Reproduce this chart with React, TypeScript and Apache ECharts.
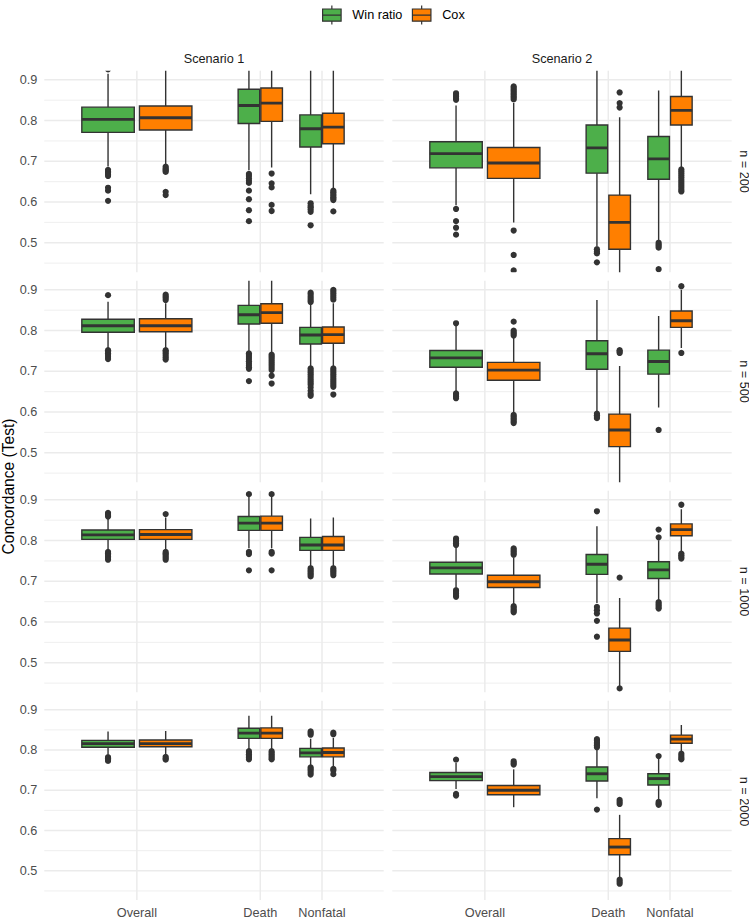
import React, { useEffect, useRef } from "react";
import * as echarts from "echarts";

// ---------- categories / labels ----------
const categories = ["Overall", "Death", "Nonfatal"];
const categoryPositions = [1, 3, 4];
const methods = ["Win ratio", "Cox"];
const scenarios = ["Scenario 1", "Scenario 2"];
const sampleSizes = ["n = 200", "n = 500", "n = 1000", "n = 2000"];
const yMajorValues = [0.5, 0.6, 0.7, 0.8, 0.9];
const yMinorValues = [0.45, 0.55, 0.65, 0.75, 0.85];

// ---------- box stats: [lower whisker, Q1, median, Q3, upper whisker] per category ----------
// Scenario 1
const s1n200Win = [[0.687, 0.771, 0.803, 0.833, 0.915], [0.678, 0.793, 0.837, 0.877, 0.96], [0.619, 0.735, 0.78, 0.814, 0.94]];
const s1n200Cox = [[0.693, 0.777, 0.807, 0.836, 0.95], [0.685, 0.798, 0.843, 0.88, 0.96], [0.634, 0.743, 0.784, 0.818, 0.94]];
const s1n500Win = [[0.757, 0.796, 0.812, 0.828, 0.871], [0.748, 0.816, 0.839, 0.862, 0.95], [0.711, 0.767, 0.789, 0.808, 0.867]];
const s1n500Cox = [[0.757, 0.797, 0.812, 0.829, 0.867], [0.747, 0.818, 0.844, 0.866, 0.95], [0.711, 0.769, 0.79, 0.809, 0.867]];
const s1n1000Win = [[0.776, 0.803, 0.814, 0.826, 0.857], [0.781, 0.825, 0.843, 0.859, 0.908], [0.736, 0.776, 0.789, 0.808, 0.854]];
const s1n1000Cox = [[0.776, 0.803, 0.815, 0.827, 0.857], [0.781, 0.825, 0.843, 0.86, 0.907], [0.736, 0.776, 0.789, 0.81, 0.857]];
const s1n2000Win = [[0.784, 0.807, 0.816, 0.824, 0.846], [0.799, 0.829, 0.842, 0.854, 0.885], [0.759, 0.783, 0.793, 0.804, 0.828]];
const s1n2000Cox = [[0.784, 0.808, 0.816, 0.825, 0.847], [0.799, 0.829, 0.842, 0.855, 0.885], [0.759, 0.783, 0.794, 0.805, 0.83]];
// Scenario 2
const s2n200Win = [[0.592, 0.684, 0.719, 0.748, 0.837], [0.49, 0.671, 0.733, 0.789, 0.96], [0.507, 0.656, 0.706, 0.761, 0.874]];
const s2n200Cox = [[0.55, 0.658, 0.696, 0.734, 0.843], [0.4, 0.484, 0.55, 0.617, 0.808], [0.683, 0.789, 0.825, 0.859, 0.95]];
const s2n500Win = [[0.65, 0.71, 0.733, 0.751, 0.813], [0.598, 0.705, 0.743, 0.775, 0.875], [0.611, 0.693, 0.724, 0.752, 0.836]];
const s2n500Cox = [[0.597, 0.678, 0.703, 0.722, 0.785], [0.4, 0.515, 0.556, 0.595, 0.713], [0.757, 0.808, 0.824, 0.848, 0.9]];
const s2n1000Win = [[0.68, 0.718, 0.733, 0.747, 0.786], [0.647, 0.717, 0.742, 0.766, 0.835], [0.653, 0.707, 0.728, 0.748, 0.801]];
const s2n1000Cox = [[0.644, 0.685, 0.699, 0.715, 0.757], [0.44, 0.528, 0.556, 0.585, 0.659], [0.772, 0.812, 0.827, 0.841, 0.877]];
const s2n2000Win = [[0.703, 0.724, 0.734, 0.744, 0.768], [0.68, 0.723, 0.741, 0.758, 0.805], [0.674, 0.713, 0.729, 0.741, 0.783]];
const s2n2000Cox = [[0.658, 0.689, 0.7, 0.712, 0.752], [0.481, 0.54, 0.559, 0.58, 0.639], [0.794, 0.817, 0.827, 0.837, 0.862]];

// ---------- outliers per category ----------
const s1n200WinOut = [[0.926, 0.679, 0.675, 0.672, 0.668, 0.664, 0.635, 0.628, 0.603], [0.669, 0.664, 0.658, 0.652, 0.647, 0.628, 0.607, 0.58, 0.553], [0.597, 0.591, 0.587, 0.582, 0.576, 0.543]];
const s1n200CoxOut = [[0.687, 0.683, 0.68, 0.677, 0.674, 0.625, 0.617], [0.67, 0.646, 0.636, 0.593, 0.578], [0.628, 0.624, 0.62, 0.616, 0.612, 0.608, 0.605, 0.577]];
const s1n500WinOut = [[0.887, 0.752, 0.748, 0.744, 0.74, 0.735, 0.73], [0.744, 0.74, 0.735, 0.73, 0.725, 0.72, 0.715, 0.71, 0.706, 0.676], [0.893, 0.889, 0.884, 0.879, 0.874, 0.87, 0.707, 0.702, 0.697, 0.692, 0.687, 0.682, 0.677, 0.672, 0.667, 0.66, 0.652, 0.645, 0.64]];
const s1n500CoxOut = [[0.888, 0.884, 0.88, 0.875, 0.752, 0.748, 0.744, 0.739, 0.734, 0.729], [0.741, 0.737, 0.733, 0.728, 0.723, 0.718, 0.713, 0.708, 0.703, 0.689, 0.67], [0.9, 0.896, 0.891, 0.886, 0.881, 0.876, 0.707, 0.702, 0.697, 0.692, 0.687, 0.682, 0.677, 0.672, 0.667, 0.662, 0.643]];
const s1n1000WinOut = [[0.868, 0.865, 0.862, 0.859, 0.772, 0.768, 0.765, 0.761, 0.757, 0.753], [0.914, 0.772, 0.767, 0.727], [0.732, 0.728, 0.724, 0.72, 0.716, 0.712]];
const s1n1000CoxOut = [[0.865, 0.772, 0.768, 0.765, 0.761, 0.757, 0.753], [0.914, 0.772, 0.768, 0.727], [0.732, 0.728, 0.724, 0.72, 0.715]];
const s1n2000WinOut = [[0.782, 0.779, 0.776, 0.773], [0.797, 0.793, 0.789, 0.785, 0.781, 0.777], [0.846, 0.842, 0.838, 0.757, 0.753, 0.749, 0.744, 0.739]];
const s1n2000CoxOut = [[0.783, 0.779, 0.776], [0.797, 0.793, 0.789, 0.785, 0.781, 0.777], [0.843, 0.839, 0.753, 0.749, 0.74]];
const s2n200WinOut = [[0.867, 0.863, 0.859, 0.855, 0.851, 0.583, 0.553, 0.537, 0.52], [0.484, 0.478, 0.474, 0.452], [0.5, 0.496, 0.492, 0.488, 0.435]];
const s2n200CoxOut = [[0.884, 0.88, 0.876, 0.872, 0.868, 0.864, 0.86, 0.856, 0.852, 0.53, 0.47, 0.432], [0.869, 0.843, 0.832], [0.68, 0.675, 0.67, 0.665, 0.66, 0.655, 0.65, 0.645, 0.64, 0.635, 0.63, 0.626]];
const s2n500WinOut = [[0.818, 0.646, 0.642, 0.638, 0.634], [0.596, 0.592, 0.588, 0.585], [0.556]];
const s2n500CoxOut = [[0.822, 0.8, 0.796, 0.792, 0.788, 0.593, 0.589, 0.585, 0.581, 0.577, 0.573], [0.752, 0.748, 0.745], [0.909, 0.745]];
const s2n1000WinOut = [[0.805, 0.801, 0.797, 0.793, 0.789, 0.678, 0.674, 0.67, 0.666, 0.662], [0.872, 0.637, 0.629, 0.621, 0.603, 0.564], [0.827, 0.808, 0.649, 0.645, 0.641, 0.637, 0.633]];
const s2n1000CoxOut = [[0.781, 0.777, 0.773, 0.769, 0.765, 0.639, 0.635, 0.631, 0.627, 0.624], [0.709, 0.437], [0.888, 0.768, 0.764, 0.76, 0.756]];
const s2n2000WinOut = [[0.776, 0.691, 0.687], [0.827, 0.823, 0.819, 0.815, 0.811, 0.807, 0.652], [0.785, 0.671, 0.667, 0.664]];
const s2n2000CoxOut = [[0.772, 0.768, 0.764], [0.676, 0.671, 0.666, 0.478, 0.473, 0.468], [0.791, 0.786, 0.781, 0.777]];

const panelData = [
  [
    { win: s1n200Win, winOut: s1n200WinOut, cox: s1n200Cox, coxOut: s1n200CoxOut },
    { win: s2n200Win, winOut: s2n200WinOut, cox: s2n200Cox, coxOut: s2n200CoxOut },
  ],
  [
    { win: s1n500Win, winOut: s1n500WinOut, cox: s1n500Cox, coxOut: s1n500CoxOut },
    { win: s2n500Win, winOut: s2n500WinOut, cox: s2n500Cox, coxOut: s2n500CoxOut },
  ],
  [
    { win: s1n1000Win, winOut: s1n1000WinOut, cox: s1n1000Cox, coxOut: s1n1000CoxOut },
    { win: s2n1000Win, winOut: s2n1000WinOut, cox: s2n1000Cox, coxOut: s2n1000CoxOut },
  ],
  [
    { win: s1n2000Win, winOut: s1n2000WinOut, cox: s1n2000Cox, coxOut: s1n2000CoxOut },
    { win: s2n2000Win, winOut: s2n2000WinOut, cox: s2n2000Cox, coxOut: s2n2000CoxOut },
  ],
];

// ---------- layout & style ----------
const FONT = '"Liberation Sans", Arial, Helvetica, sans-serif';
const COLORS = ["#4DAF4A", "#FF7F00"];
const OUTLINE = "#333333";
const GRID_COLOR = "#EBEBEB";
const PANEL_LEFT = [44.3, 392.3];
const PANEL_TOP = [70.7, 280.7, 490.7, 700.7];
const PANEL_W = 339.4;
const PANEL_H = 201.6;
const X_MIN = -0.5;
const X_MAX = 5;
const Y_MIN = 0.4275;
const Y_MAX = 0.9225;
const BOX_GEOM = [
  { offset: 0.467, half: 0.425 },
  { offset: 0.184, half: 0.175 },
  { offset: 0.184, half: 0.175 },
];
const LEGEND_ICON = "path://M0,3.5H19V16H0Z M9.5,0V3.5 M9.5,16V19.5 M0,9.75H19";

function gridRenderer(_params: any, api: any) {
  const kind = api.value(0);
  const v = api.value(1);
  const major = api.value(2);
  let p1: number[];
  let p2: number[];
  if (kind === 0) {
    p1 = api.coord([X_MIN, v]);
    p2 = api.coord([X_MAX, v]);
  } else {
    p1 = api.coord([v, Y_MIN]);
    p2 = api.coord([v, Y_MAX]);
  }
  return {
    type: "line",
    shape: { x1: p1[0], y1: p1[1], x2: p2[0], y2: p2[1] },
    style: { stroke: GRID_COLOR, lineWidth: major ? 1.5 : 0.8 },
    silent: true,
  };
}

function makeBoxRenderer(color: string) {
  return (_params: any, api: any) => {
    const x = api.value(0);
    const hw = api.value(6);
    const pLow = api.coord([x, api.value(1)]);
    const cx = pLow[0];
    const yLow = pLow[1];
    const yQ1 = api.coord([x, api.value(2)])[1];
    const yMed = api.coord([x, api.value(3)])[1];
    const yQ3 = api.coord([x, api.value(4)])[1];
    const yHigh = api.coord([x, api.value(5)])[1];
    const xl = api.coord([x - hw, 0.6])[0];
    const xr = api.coord([x + hw, 0.6])[0];
    return {
      type: "group",
      children: [
        { type: "line", shape: { x1: cx, y1: yHigh, x2: cx, y2: yQ3 }, style: { stroke: OUTLINE, lineWidth: 1.4 } },
        { type: "line", shape: { x1: cx, y1: yQ1, x2: cx, y2: yLow }, style: { stroke: OUTLINE, lineWidth: 1.4 } },
        {
          type: "rect",
          shape: { x: xl, y: yQ3, width: xr - xl, height: yQ1 - yQ3 },
          style: { fill: color, stroke: OUTLINE, lineWidth: 1.4 },
        },
        { type: "line", shape: { x1: xl, y1: yMed, x2: xr, y2: yMed }, style: { stroke: OUTLINE, lineWidth: 2.9 } },
      ],
    };
  };
}

function outlierRenderer(_params: any, api: any) {
  const p = api.coord([api.value(0), api.value(1)]);
  return { type: "circle", shape: { cx: p[0], cy: p[1], r: 3.1 }, style: { fill: OUTLINE } };
}

function buildOption() {
  const grids: any[] = [];
  const xAxes: any[] = [];
  const yAxes: any[] = [];
  const series: any[] = [];
  const graphics: any[] = [];

  const gridData = [
    ...yMajorValues.map((v) => [0, v, 1]),
    ...yMinorValues.map((v) => [0, v, 0]),
    ...categoryPositions.map((x) => [1, x, 1]),
  ];

  sampleSizes.forEach((_n, r) => {
    scenarios.forEach((_s, c) => {
      const k = r * 2 + c;
      grids.push({ left: PANEL_LEFT[c], top: PANEL_TOP[r], width: PANEL_W, height: PANEL_H });
      xAxes.push({
        gridIndex: k,
        type: "value",
        min: X_MIN,
        max: X_MAX,
        interval: 0.5,
        axisLine: { show: false },
        axisTick: { show: false },
        splitLine: { show: false },
        axisLabel: {
          show: r === sampleSizes.length - 1,
          margin: 6,
          color: "#4D4D4D",
          fontFamily: FONT,
          fontSize: 12.7,
          formatter: (v: number) => {
            const i = categoryPositions.findIndex((p) => Math.abs(p - v) < 1e-6);
            return i >= 0 ? categories[i] : "";
          },
        },
      });
      yAxes.push({
        gridIndex: k,
        type: "value",
        min: Y_MIN,
        max: Y_MAX,
        splitNumber: 5,
        axisLine: { show: false },
        axisTick: { show: false },
        splitLine: { show: false },
        axisLabel: {
          show: c === 0,
          showMinLabel: false,
          showMaxLabel: false,
          margin: 7,
          color: "#4D4D4D",
          fontFamily: FONT,
          fontSize: 12.7,
          formatter: (v: number) => v.toFixed(1),
        },
      });
      series.push({
        type: "custom",
        name: "grid",
        xAxisIndex: k,
        yAxisIndex: k,
        silent: true,
        z: 1,
        renderItem: gridRenderer,
        data: gridData,
      });

      const p = panelData[r][c];
      const groups = [
        [p.win, p.winOut],
        [p.cox, p.coxOut],
      ];
      groups.forEach(([stats, outs], m) => {
        const sign = m === 0 ? -1 : 1;
        series.push({
          type: "custom",
          name: methods[m],
          xAxisIndex: k,
          yAxisIndex: k,
          clip: true,
          z: 3,
          silent: true,
          itemStyle: { color: COLORS[m] },
          encode: { x: 0, y: [1, 2, 3, 4, 5] },
          renderItem: makeBoxRenderer(COLORS[m]),
          data: (stats as number[][]).map((s, i) => [
            categoryPositions[i] + sign * BOX_GEOM[i].offset,
            s[0],
            s[1],
            s[2],
            s[3],
            s[4],
            BOX_GEOM[i].half,
          ]),
        });
        series.push({
          type: "custom",
          name: methods[m] + " outliers",
          xAxisIndex: k,
          yAxisIndex: k,
          clip: true,
          z: 4,
          silent: true,
          renderItem: outlierRenderer,
          data: (outs as number[][]).flatMap((list, i) =>
            list.map((v) => [categoryPositions[i] + sign * BOX_GEOM[i].offset, v])
          ),
        });
      });
    });
  });

  // strip labels
  scenarios.forEach((s, c) => {
    graphics.push({
      type: "text",
      x: PANEL_LEFT[c] + PANEL_W / 2,
      y: 58.5,
      style: {
        text: s,
        fill: "#1A1A1A",
        font: `12.7px ${FONT}`,
        align: "center",
        verticalAlign: "middle",
        textAlign: "center",
        textVerticalAlign: "middle",
      },
    });
  });
  sampleSizes.forEach((n, r) => {
    graphics.push({
      type: "text",
      x: 743.5,
      y: PANEL_TOP[r] + PANEL_H / 2,
      rotation: -Math.PI / 2,
      style: {
        text: n,
        fill: "#1A1A1A",
        font: `12.7px ${FONT}`,
        align: "center",
        verticalAlign: "middle",
        textAlign: "center",
        textVerticalAlign: "middle",
      },
    });
  });
  graphics.push({
    type: "text",
    x: 8,
    y: (PANEL_TOP[0] + PANEL_TOP[3] + PANEL_H) / 2,
    rotation: Math.PI / 2,
    style: {
      text: "Concordance (Test)",
      fill: "#000000",
      font: `15.6px ${FONT}`,
      align: "center",
      verticalAlign: "middle",
      textAlign: "center",
      textVerticalAlign: "middle",
    },
  });

  return {
    animation: false,
    backgroundColor: "#FFFFFF",
    textStyle: { fontFamily: FONT },
    legend: {
      data: methods.map((name) => ({ name, icon: LEGEND_ICON })),
      left: 317,
      top: 0,
      itemWidth: 19,
      itemHeight: 19,
      itemGap: 9.4,
      selectedMode: false,
      itemStyle: { borderColor: OUTLINE, borderWidth: 1.2 },
      textStyle: { fontFamily: FONT, fontSize: 12.7, color: "#000000", padding: [0, 0, 0, 6] },
    },
    grid: grids,
    xAxis: xAxes,
    yAxis: yAxes,
    series,
    graphic: graphics,
  };
}

export default function App() {
  const ref = useRef<HTMLDivElement | null>(null);
  useEffect(() => {
    if (!ref.current) return;
    const chart = echarts.init(ref.current, undefined, { renderer: "svg" });
    chart.setOption(buildOption() as any);
    return () => {
      chart.dispose();
    };
  }, []);
  return (
    <div
      ref={ref}
      style={{ position: "fixed", left: 0, top: 0, width: 749, height: 919, background: "#fff" }}
    />
  );
}
